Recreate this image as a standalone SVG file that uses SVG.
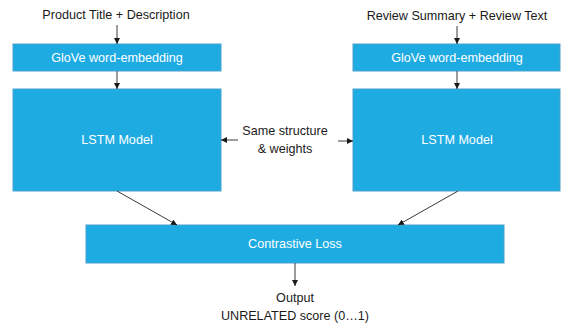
<svg xmlns="http://www.w3.org/2000/svg" width="561" height="325" viewBox="0 0 561 325">
<style>
.box{fill:#1eabe2;stroke:#4aa3cf;stroke-width:1}
.wt{fill:#ffffff;font-family:"Liberation Sans",Arial,sans-serif;font-size:12.6px;text-anchor:middle}
.bt{fill:#1a1a1a;font-family:"Liberation Sans",Arial,sans-serif;font-size:12.6px;text-anchor:middle}
.ln{stroke:#3a3a3a;stroke-width:1;fill:none;marker-end:url(#ah)}
</style>
<defs>
<marker id="ah" viewBox="0 0 6 6" refX="6" refY="3" markerWidth="6" markerHeight="6" markerUnits="userSpaceOnUse" orient="auto">
<path d="M0,0 L6,3 L0,6 z" fill="#1a1a1a"/>
</marker>
</defs>
<rect width="561" height="325" fill="#ffffff"/>
<g id="input-left"><text class="bt" x="116" y="19">Product Title + Description</text></g>
<g id="input-right"><text class="bt" x="457" y="20">Review Summary + Review Text</text></g>
<g id="glove-left"><rect class="box" x="13" y="44" width="208" height="27"/><text class="wt" x="117" y="62">GloVe word-embedding</text></g>
<g id="glove-right"><rect class="box" x="353" y="44" width="207" height="27"/><text class="wt" x="457" y="62">GloVe word-embedding</text></g>
<g id="lstm-left"><rect class="box" x="13" y="89" width="208" height="102"/><text class="wt" x="117" y="144">LSTM Model</text></g>
<g id="lstm-right"><rect class="box" x="353" y="89" width="207" height="102"/><text class="wt" x="457" y="144">LSTM Model</text></g>
<g id="same"><text class="bt" x="285" y="135">Same structure</text><text class="bt" x="285" y="153">&amp; weights</text></g>
<g id="loss"><rect class="box" x="86" y="225" width="418" height="38"/><text class="wt" x="295" y="248">Contrastive Loss</text></g>
<g id="output"><text class="bt" x="295" y="302">Output</text><text class="bt" x="295" y="320">UNRELATED score (0…1)</text></g>
<g id="connectors">
<line class="ln" x1="117" y1="25" x2="117" y2="44"/>
<line class="ln" x1="457" y1="26" x2="457" y2="44"/>
<line class="ln" x1="117" y1="71" x2="117" y2="89"/>
<line class="ln" x1="457" y1="71" x2="457" y2="89"/>
<line class="ln" x1="238" y1="140" x2="221" y2="140"/>
<line class="ln" x1="338" y1="141" x2="353" y2="141"/>
<line class="ln" x1="117" y1="191" x2="177" y2="225"/>
<line class="ln" x1="458" y1="191" x2="398" y2="225"/>
<line class="ln" x1="295" y1="263" x2="295" y2="286"/>
</g>
</svg>
